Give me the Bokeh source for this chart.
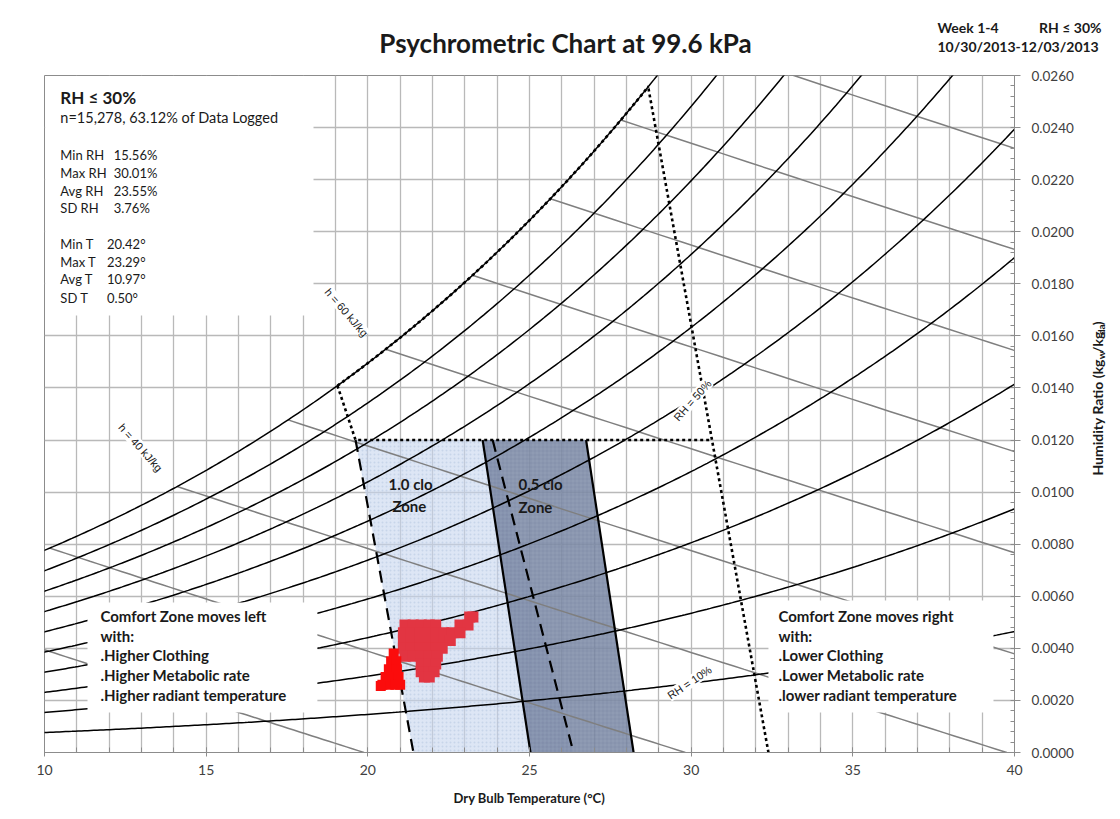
import numpy as np
from bokeh.plotting import figure
from bokeh.layouts import column, row
from bokeh.models import Label, FixedTicker, NumeralTickFormatter, Range1d
from bokeh.core.properties import value
from bokeh.embed import file_html
from bokeh.resources import INLINE

# ---------------- chart data ----------------
PRESSURE_KPA = 99.6
rh_levels = [10, 20, 30, 40, 50, 60, 70, 80, 90, 100]          # relative humidity curves, %
enthalpy_levels = [20, 30, 40, 50, 60, 70, 80, 90, 100]        # constant enthalpy lines, kJ/kg
x_ticks = [10, 15, 20, 25, 30, 35, 40]
x_minor = list(range(10, 41))
y_ticks = [0.0, 0.002, 0.004, 0.006, 0.008, 0.010, 0.012, 0.014,
           0.016, 0.018, 0.020, 0.022, 0.024, 0.026]

# comfort zones: corner temperatures (°C) and humidity ratios (kg/kg)
clo10_t = [19.62, 23.86, 26.36, 21.41]
clo10_w = [0.012, 0.012, 0.0, 0.0]
clo05_t = [23.55, 26.75, 28.22, 25.03]
clo05_w = [0.012, 0.012, 0.0, 0.0]

# dotted envelope
env_sat_t = [19.06, 28.68]                 # stretch that follows the saturation curve
env_low_t = [19.06, 19.62, 30.64]
env_low_w = [0.01409, 0.012, 0.012]
env_right_t = [28.68, 32.39]
env_right_w = [0.02550, 0.0]

# logged conditions, RH <= 30 %
logged_t = [23.15, 23.25,
            21.15, 21.40, 21.65, 21.90, 22.10, 22.85, 23.10,
            21.10, 21.35, 21.60, 21.85, 22.10, 22.35, 22.60, 22.85,
            21.10, 21.35, 21.60, 21.85, 22.10, 22.35, 22.55,
            21.10, 21.35, 21.60, 21.85, 22.10, 22.30,
            21.15, 21.40, 21.65, 21.90, 22.15,
            21.65, 21.90, 22.10,
            21.65, 21.90, 22.05,
            21.75, 21.90]
logged_w = [0.0052, 0.0052,
            0.0049, 0.0049, 0.0049, 0.0049, 0.0049, 0.0049, 0.0049,
            0.0046, 0.0046, 0.0046, 0.0046, 0.0046, 0.0046, 0.0046, 0.0046,
            0.0043, 0.0043, 0.0043, 0.0043, 0.0043, 0.0043, 0.0043,
            0.0040, 0.0040, 0.0040, 0.0040, 0.0040, 0.0040,
            0.0037, 0.0037, 0.0037, 0.0037, 0.0037,
            0.0034, 0.0034, 0.0034,
            0.0031, 0.0031, 0.0031,
            0.0029, 0.0029]
logged2_t = [20.80, 20.72, 20.88, 20.65, 20.90, 20.55, 20.75, 20.95,
             20.45, 20.65, 20.85, 21.00, 20.40]
logged2_w = [0.0038, 0.0035, 0.0035, 0.0032, 0.0032, 0.0029, 0.0029, 0.0029,
             0.0026, 0.0026, 0.0026, 0.0026, 0.00255]

stat_rh_names = ["Min RH", "Max RH", "Avg RH", "SD RH"]
stat_rh_values = ["15.56%", "30.01%", "23.55%", "3.76%"]
stat_t_names = ["Min T", "Max T", "Avg T", "SD T"]
stat_t_values = ["20.42°", "23.29°", "10.97°", "0.50°"]

left_note = ["Comfort Zone moves left", "with:", ".Higher Clothing",
             ".Higher Metabolic rate", ".Higher radiant temperature"]
right_note = ["Comfort Zone moves right", "with:", ".Lower Clothing",
              ".Lower Metabolic rate", ".lower radiant temperature"]


# ---------------- psychrometrics ----------------
def p_ws(t):
    T = np.asarray(t, dtype=float) + 273.15
    ln_p = (-5.8002206e3 / T + 1.3914993 - 4.8640239e-2 * T + 4.1764768e-5 * T ** 2
            - 1.4452093e-8 * T ** 3 + 6.5459673 * np.log(T))
    return np.exp(ln_p) / 1000.0


def w_rh(t, rh):
    pw = rh / 100.0 * p_ws(t)
    return 0.621945 * pw / (PRESSURE_KPA - pw)


def w_h(t, h):
    return (h - 1.006 * t) / (2501.0 + 1.86 * t)


def t_sat_h(h):
    lo, hi = -30.0, 80.0
    for _ in range(60):
        mid = 0.5 * (lo + hi)
        if 1.006 * mid + w_rh(mid, 100) * (2501.0 + 1.86 * mid) > h:
            hi = mid
        else:
            lo = mid
    return 0.5 * (lo + hi)


FONT = "Lato"
INK = "#1a1a1a"
W_TOTAL, H_TOTAL = 1120, 819
HEAD_H = 60
SIDE_W = 32


def bare_figure(width, height, xr, yr):
    f = figure(width=width, height=height, x_range=xr, y_range=yr,
               output_backend="svg", toolbar_location=None,
               min_border=0, x_axis_location=None, y_axis_location=None)
    f.grid.visible = False
    f.outline_line_color = None
    f.background_fill_color = "white"
    f.border_fill_color = "white"
    return f


# ---------------- heading strip (y measured downward) ----------------
head = bare_figure(W_TOTAL, HEAD_H, Range1d(0, W_TOTAL), Range1d(HEAD_H, 0))
head.text(x=[565], y=[42], text=["Psychrometric Chart at 99.6 kPa"],
          text_font=value(FONT), text_font_size="26px", text_font_style="bold",
          text_align="center", text_baseline="middle", text_color=INK)
head.text(x=[937, 937], y=[27, 46], text=["Week 1-4", "10/30/2013-12/03/2013"],
          text_font=value(FONT), text_font_size="14px", text_font_style="bold",
          text_align="left", text_baseline="middle", text_color=INK)
head.text(x=[1101], y=[27], text=["RH ≤ 30%"],
          text_font=value(FONT), text_font_size="14px", text_font_style="bold",
          text_align="right", text_baseline="middle", text_color=INK)

# ---------------- chart ----------------
p = figure(width=W_TOTAL - SIDE_W, height=H_TOTAL - HEAD_H,
           x_range=Range1d(10, 40), y_range=Range1d(0, 0.026),
           output_backend="svg", toolbar_location=None, y_axis_location="right",
           min_border_left=44, min_border_right=74, min_border_top=15, min_border_bottom=67)
p.background_fill_color = "white"
p.border_fill_color = "white"
p.outline_line_color = "#8c8c8c"

p.xgrid.ticker = FixedTicker(ticks=x_minor)
p.ygrid.ticker = FixedTicker(ticks=y_ticks)
for g in (p.xgrid, p.ygrid):
    g.grid_line_color = "#b9b9b9"
    g.grid_line_width = 1.3

p.xaxis.ticker = FixedTicker(ticks=x_ticks, minor_ticks=x_minor)
p.yaxis.ticker = FixedTicker(ticks=y_ticks,
                             minor_ticks=[round(0.0004 * i, 4) for i in range(66)])
p.yaxis.formatter = NumeralTickFormatter(format="0.0000")
for ax in (p.xaxis, p.yaxis):
    ax.axis_line_color = "#8c8c8c"
    ax.major_tick_line_color = "#8c8c8c"
    ax.minor_tick_line_color = "#8c8c8c"
    ax.major_label_text_font = FONT
    ax.major_label_text_color = "#404040"
p.xaxis.major_label_text_font_size = "14px"
p.yaxis.major_label_text_font_size = "13.5px"
p.xaxis.major_tick_in = 5
p.xaxis.major_tick_out = 4
p.xaxis.minor_tick_in = 5
p.xaxis.minor_tick_out = 0
p.xaxis.major_label_standoff = 8
p.xaxis.axis_label = "Dry Bulb Temperature (°C)"
p.xaxis.axis_label_text_font = FONT
p.xaxis.axis_label_text_font_size = "13px"
p.xaxis.axis_label_text_font_style = "bold"
p.xaxis.axis_label_text_color = INK
p.xaxis.axis_label_standoff = 12
p.yaxis.major_tick_in = 0
p.yaxis.major_tick_out = 6
p.yaxis.minor_tick_in = 4
p.yaxis.minor_tick_out = 0
p.yaxis.major_label_standoff = 11

# comfort zones
p.patch(clo10_t, clo10_w, fill_color="#c6d6ef", fill_alpha=0.6, line_color=None,
        hatch_pattern="dot", hatch_scale=4, hatch_color="#9fb4d8", hatch_alpha=0.35)
p.patch(clo05_t, clo05_w, fill_color="#7b8aa6", fill_alpha=0.85, line_color=None,
        hatch_pattern="cross", hatch_scale=4, hatch_color="#5d6c88", hatch_alpha=0.3,
        hatch_weight=0.6)

# constant enthalpy lines
hx, hy = [], []
for h in enthalpy_levels:
    ts = np.linspace(t_sat_h(h), h / 1.006, 80)
    hx.append(ts)
    hy.append(w_h(ts, h))
p.multi_line(hx, hy, line_color="#7f7f7f", line_width=1.5)

# relative humidity curves
t_grid = np.linspace(9, 41, 330)
p.multi_line([t_grid] * len(rh_levels), [w_rh(t_grid, rh) for rh in rh_levels],
             line_color="black", line_width=1.5)

# comfort zone edges
p.line([clo10_t[0], clo10_t[3]], [clo10_w[0], clo10_w[3]], line_color="black",
       line_width=2.2, line_dash="12 7")
p.line([clo10_t[1], clo10_t[2]], [clo10_w[1], clo10_w[2]], line_color="black",
       line_width=2.2, line_dash="12 7")
p.line([clo05_t[0], clo05_t[3]], [clo05_w[0], clo05_w[3]], line_color="black", line_width=2.2)
p.line([clo05_t[1], clo05_t[2]], [clo05_w[1], clo05_w[2]], line_color="black", line_width=2.2)

# dotted envelope
t_env = np.linspace(env_sat_t[0], env_sat_t[1], 120)
p.line(t_env, w_rh(t_env, 100), line_color="black", line_width=2.6, line_dash="3 3")
p.line(env_low_t, env_low_w, line_color="black", line_width=2.6, line_dash="3 3")
p.line(env_right_t, env_right_w, line_color="black", line_width=2.6, line_dash="3 3")

# logged data
p.scatter(logged_t, logged_w, size=11, marker="square", fill_color="#e23542", line_color=None)
p.scatter(logged2_t, logged2_w, size=10, marker="square", fill_color="#fb0c0c", line_color=None)

# white text panels
p.quad(left=[10.02, 11.33, 32.39], right=[18.32, 18.44, 39.35],
       bottom=[0.01678, 0.00154, 0.00154], top=[0.02598, 0.00576, 0.00584],
       fill_color="white", line_color=None)


def label(x, y, text, size="14px", style="normal", align="left", angle=0.0,
          font=FONT, color=INK, bg=None):
    lab = Label(x=x, y=y, text=text, text_font=font, text_font_size=size,
                text_font_style=style, text_align=align, text_baseline="middle",
                text_color=color, angle=angle)
    if bg:
        lab.background_fill_color = bg
    p.add_layout(lab)


# statistics panel
label(10.49, 0.02516, "RH ≤ 30%", size="17px", style="bold")
label(10.49, 0.02439, "n=15,278, 63.12% of Data Logged", size="14.5px")
for name, val, y in zip(stat_rh_names, stat_rh_values, [0.02293, 0.02227, 0.02158, 0.02093]):
    label(10.49, y, name, size="13px")
    label(12.14, y, val, size="13px")
for name, val, y in zip(stat_t_names, stat_t_values, [0.01951, 0.01882, 0.01817, 0.01744]):
    label(10.49, y, name, size="13px")
    label(11.93, y, val, size="13px")

# notes
for line, y in zip(left_note, [0.00526, 0.00449, 0.00373, 0.00296, 0.00219]):
    label(11.73, y, line, size="15px", style="bold")
for line, y in zip(right_note, [0.00526, 0.00449, 0.00373, 0.00296, 0.00219]):
    label(32.70, y, line, size="15px", style="bold")

# zone names
label(20.64, 0.01033, "1.0 clo", size="15px", style="bold")
label(20.76, 0.00945, "Zone", size="15px", style="bold")
label(24.66, 0.01030, "0.5 clo", size="15px", style="bold")
label(24.66, 0.00941, "Zone", size="15px", style="bold")

# line labels
SMALL = "Liberation Sans"
label(12.97, 0.01171, "h = 40 kJ/kg", size="11px", align="center", angle=-0.84, font=SMALL, bg="white")
label(19.34, 0.01690, "h = 60 kJ/kg", size="11px", align="center", angle=-0.86, font=SMALL, bg="white")
label(30.04, 0.01352, "RH = 50%", size="11px", align="center", angle=0.85, font=SMALL, bg="white")
label(29.95, 0.00269, "RH = 10%", size="11px", align="center", angle=0.59, font=SMALL, bg="white")

# ---------------- humidity ratio axis title (y measured upward) ----------------
side_h = H_TOTAL - HEAD_H
side = bare_figure(SIDE_W, side_h, Range1d(0, SIDE_W), Range1d(0, side_h))
side.text(x=[9], y=[441], text=["Humidity Ratio (kg"], angle=np.pi / 2,
          text_font=value(FONT), text_font_size="14px", text_font_style="bold",
          text_align="right", text_baseline="middle", text_color=INK)
side.text(x=[9, 9], y=[448, 479], text=["/kg", ")"], angle=np.pi / 2,
          text_font=value(FONT), text_font_size="14px", text_font_style="bold",
          text_align="left", text_baseline="middle", text_color=INK)
side.text(x=[12.5, 12.5], y=[441, 468], text=["w", "da"], angle=np.pi / 2,
          text_font=value(FONT), text_font_size="10px", text_font_style="bold",
          text_align="left", text_baseline="middle", text_color=INK)

layout = column(head, row(p, side, spacing=0), spacing=0)
open("out.html", "w").write(file_html(layout, INLINE))
